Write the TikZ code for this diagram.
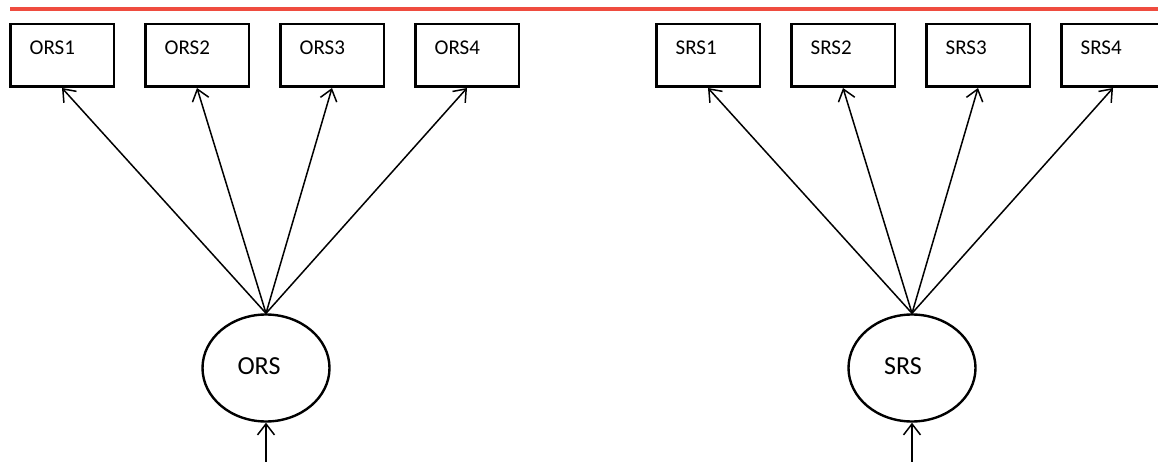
\documentclass[tikz,border=0pt]{standalone}
\usepackage{fontspec}
\setmainfont{Carlito}
\usetikzlibrary{shapes.geometric,arrows.meta}
\definecolor{topred}{RGB}{239,76,63}
\tikzset{
  itembox/.style={draw, line width=2.5pt, minimum width=103.5pt, minimum height=62.5pt, inner sep=0pt},
  itemtext/.style={anchor=west, inner sep=0pt, font=\fontsize{21}{25}\selectfont},
  latent/.style={draw, ellipse, line width=2.4pt, minimum width=127pt, minimum height=107pt, inner sep=0pt},
  latenttext/.style={inner sep=0pt, font=\fontsize{26}{30}\selectfont},
  load/.style={line width=1.5pt, -{Straight Barb[length=11pt,width=17pt]}},
}
\begin{document}
\begin{tikzpicture}[x=1pt,y=-1pt]
  \clip (0,0) rectangle (1158,462);
  \fill[white] (0,0) rectangle (1158,462);
  % red rule along the top
  \draw[topred, line width=3.6pt] (10,9) -- (1158,9);

  % observed indicators
  \foreach \i/\x in {1/62,2/197,3/332,4/467} {
    \node[itembox] (o\i) at (\x,55.5) {};
    \node[itemtext] (ot\i) at ([xshift=20.5pt,yshift=7.5pt]o\i.west) {ORS\i};
  }
  \foreach \i/\x in {1/708,2/843,3/978,4/1113} {
    \node[itembox] (s\i) at (\x,55.5) {};
    \node[itemtext] (st\i) at ([xshift=20.5pt,yshift=7.5pt]s\i.west) {SRS\i};
  }

  % latent factors
  \node[latent] (ors) at (266,368) {};
  \node[latenttext] (orst) at ([xshift=-7pt,yshift=2pt]ors.center) {ORS};
  \node[latent] (srs) at (912,368) {};
  \node[latenttext] (srst) at ([xshift=-9pt,yshift=2pt]srs.center) {SRS};

  % loadings
  \foreach \i in {1,2,3,4} {
    \draw[load] (ors.north) -- (o\i.south);
    \draw[load] (srs.north) -- (s\i.south);
  }

  % disturbances
  \coordinate (orsin) at (266,470);
  \coordinate (srsin) at (912,470);
  \draw[load] (orsin) -- (ors.south);
  \draw[load] (srsin) -- (srs.south);
\end{tikzpicture}
\end{document}
